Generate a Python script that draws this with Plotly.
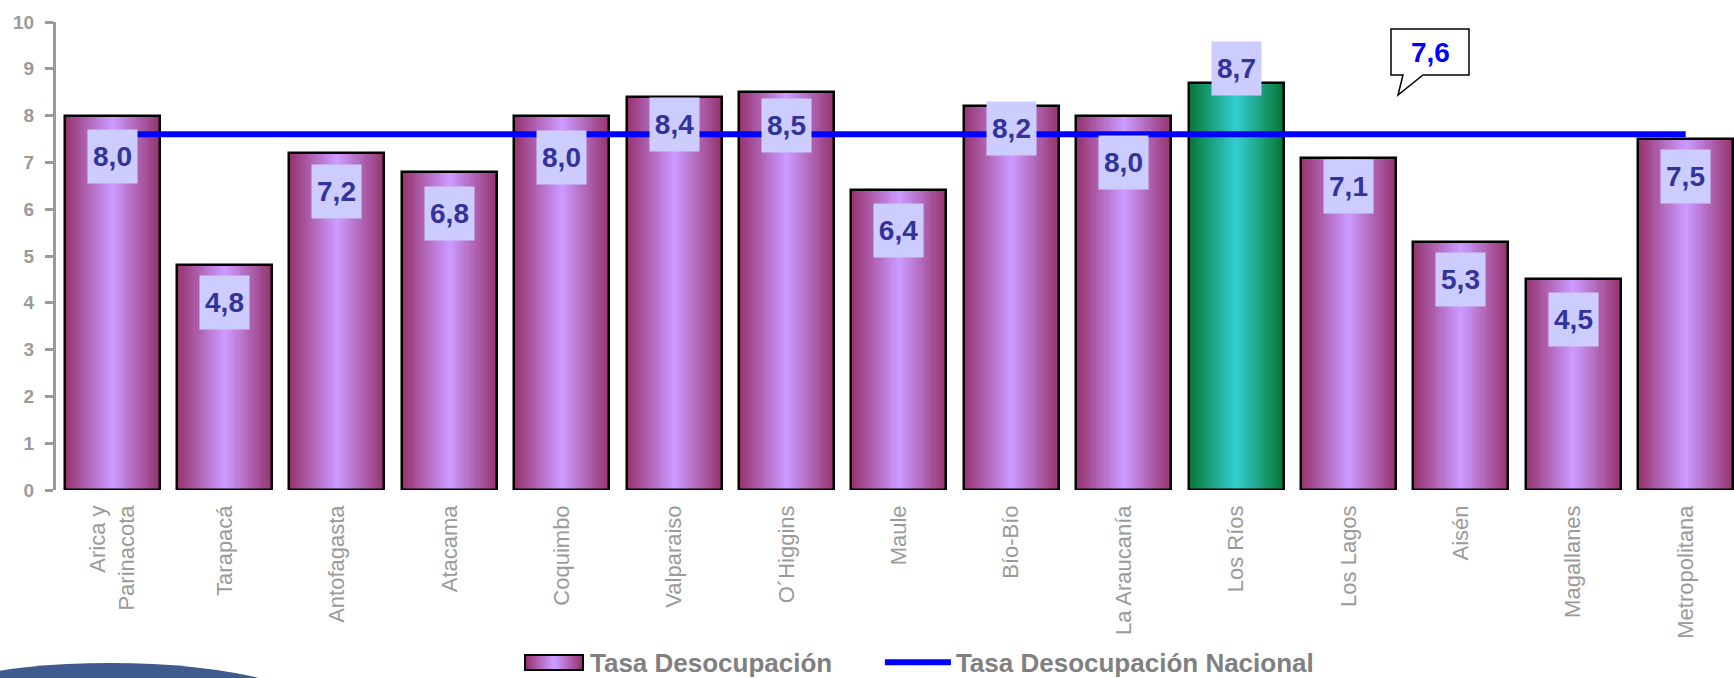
import plotly.graph_objects as go

# ---------------- data ----------------
categories = ["Arica y Parinacota", "Tarapacá", "Antofagasta", "Atacama", "Coquimbo",
              "Valparaiso", "O´Higgins", "Maule", "Bío-Bío", "La Araucanía",
              "Los Ríos", "Los Lagos", "Aisén", "Magallanes", "Metropolitana"]
tick_labels = ["Arica y<br>Parinacota", "Tarapacá", "Antofagasta", "Atacama", "Coquimbo",
               "Valparaiso", "O´Higgins", "Maule", "Bío-Bío", "La Araucanía",
               "Los Ríos", "Los Lagos", "Aisén", "Magallanes", "Metropolitana"]
tasa = [8.0, 4.8, 7.2, 6.8, 8.0, 8.4, 8.5, 6.4, 8.2, 8.0, 8.7, 7.1, 5.3, 4.5, 7.5]
nacional = 7.6
y_ticks = [0, 1, 2, 3, 4, 5, 6, 7, 8, 9, 10]
highlight = "Los Ríos"

# ---------------- styling ----------------
FONT = "Liberation Sans, Arial, sans-serif"
GRAY = "#9a9a9a"
BAR_W = 0.845
N_LAYERS = 22
label_shift = [-41, -37, -38, -42, -42, -28, -33, -40, -22, -47, 14, -29, -38, -40, -37]

purple_edge, purple_mid = (150, 52, 112), (204, 153, 255)
green_edge, green_mid = (6, 120, 56), (51, 204, 204)

# page geometry used to place decorations in paper units
W_PX, H_PX = 1734, 678
M_L, M_R, M_T, M_B = 56, 0, 22, 188
PW, PH = W_PX - M_L - M_R, H_PX - M_T - M_B


def px_x(px):
    return (px - M_L) / PW


def px_y(py):
    return (H_PX - M_B - py) / PH


def mix(a, b, t):
    return "rgb(%d,%d,%d)" % tuple(round(a[i] + (b[i] - a[i]) * t) for i in range(3))


fig = go.Figure()

# base bar (carries the legend entry; its swatch is drawn as shapes below)
fig.add_trace(go.Bar(
    x=categories, y=tasa, width=BAR_W, name="<b>Tasa Desocupación</b>",
    marker=dict(color="rgba(0,0,0,0)", line=dict(width=0)),
    showlegend=True, legend="legend", hoverinfo="skip"))

# gradient layers (nested, from edge colour to centre colour)
for k in range(N_LAYERS):
    t = k / (N_LAYERS - 1)
    w = BAR_W * (1 - k / N_LAYERS)
    cols = [mix(green_edge, green_mid, t) if c == highlight else mix(purple_edge, purple_mid, t)
            for c in categories]
    fig.add_trace(go.Bar(x=categories, y=tasa, width=w, marker=dict(color=cols, line=dict(width=0)),
                         showlegend=False, hoverinfo="skip"))

# outline on top
fig.add_trace(go.Bar(
    x=categories, y=tasa, width=BAR_W,
    marker=dict(color="rgba(0,0,0,0)", line=dict(color="black", width=2.5)),
    showlegend=False, hoverinfo="skip"))

# national line
fig.add_trace(go.Scatter(
    x=categories, y=[nacional] * len(categories), mode="lines",
    name="<b>Tasa Desocupación Nacional</b>", legend="legend2",
    line=dict(color="#0000FF", width=6)))


def fmt(v):
    return ("%.1f" % v).replace(".", ",")


annotations = []
for c, v, s in zip(categories, tasa, label_shift):
    annotations.append(dict(
        x=c, y=v, yshift=s, text="<b>%s</b>" % fmt(v), showarrow=False,
        font=dict(family=FONT, size=28, color="#333399"),
        bgcolor="#CCCCFF", width=49, height=53, borderpad=0, xanchor="center", yanchor="middle"))

# callout text for the national rate (bubble drawn as a shape below)
CB_L, CB_R, CB_T, CB_B = 1391, 1469, 29, 75
annotations.append(dict(
    x=px_x((CB_L + CB_R) / 2), y=px_y((CB_T + CB_B) / 2), xref="paper", yref="paper",
    text="<b>%s</b>" % fmt(nacional), showarrow=False,
    font=dict(family=FONT, size=28, color="#0000FF"), xanchor="center", yanchor="middle"))

# decorative shapes: slide swoosh, legend swatch (gradient box), callout bubble
shapes = [dict(type="circle", xref="paper", yref="paper",
               x0=px_x(-110), x1=px_x(330), y0=px_y(777), y1=px_y(663),
               fillcolor="#3F5A8C", line=dict(width=0), layer="above")]
SW_L, SW_R, SW_T, SW_B, SW_N = 525, 583, 655, 670, 10
for k in range(SW_N):
    t = k / (SW_N - 1)
    half = (SW_R - SW_L) / 2 * (1 - k / SW_N)
    cx = (SW_L + SW_R) / 2
    shapes.append(dict(type="rect", xref="paper", yref="paper",
                       x0=px_x(cx - half), x1=px_x(cx + half), y0=px_y(SW_B), y1=px_y(SW_T),
                       fillcolor=mix(purple_edge, purple_mid, t), line=dict(width=0), layer="above"))
shapes.append(dict(type="rect", xref="paper", yref="paper",
                   x0=px_x(SW_L), x1=px_x(SW_R), y0=px_y(SW_B), y1=px_y(SW_T),
                   fillcolor="rgba(0,0,0,0)", line=dict(color="black", width=2), layer="above"))

bubble_pts = [(CB_L, CB_T), (CB_R, CB_T), (CB_R, CB_B), (1423, CB_B), (1398, 95), (1403, CB_B),
              (CB_L, CB_B)]
bubble_path = "M" + " L".join("%.5f,%.5f" % (px_x(a), px_y(b)) for a, b in bubble_pts) + " Z"
shapes.append(dict(type="path", xref="paper", yref="paper", path=bubble_path,
                   fillcolor="white", line=dict(color="black", width=1.5), layer="above"))

legend_font = dict(family=FONT, size=26, color="#808080")

fig.update_layout(
    width=W_PX, height=H_PX,
    margin=dict(l=M_L, r=M_R, t=M_T, b=M_B, autoexpand=False),
    plot_bgcolor="white", paper_bgcolor="white",
    barmode="overlay", bargap=0,
    font=dict(family=FONT),
    annotations=annotations,
    shapes=shapes,
    showlegend=True,
    legend=dict(orientation="h", x=0.2765, y=-0.318, xanchor="left", yanchor="top",
                font=legend_font, itemwidth=60, bgcolor="rgba(0,0,0,0)"),
    legend2=dict(orientation="h", x=0.491, y=-0.318, xanchor="left", yanchor="top",
                 font=legend_font, itemwidth=66, bgcolor="rgba(0,0,0,0)"),
    xaxis=dict(range=[-0.5, 14.43], tickmode="array", tickvals=categories, ticktext=tick_labels,
               tickangle=-90, tickfont=dict(family=FONT, size=22, color=GRAY),
               showgrid=False, showline=False, zeroline=False, ticks="",
               ticklabelstandoff=10, automargin=False),
    yaxis=dict(range=[0, 10], tickvals=y_ticks, ticks="outside", ticklen=8, tickwidth=3,
               tickcolor=GRAY, showline=True, linecolor=GRAY, linewidth=3,
               tickfont=dict(family=FONT, size=19, color=GRAY, weight="bold"),
               showgrid=False, zeroline=False, ticklabelstandoff=7, automargin=False),
    yaxis2=dict(range=[0, 10], overlaying="y", side="left", anchor="x", tickvals=y_ticks,
                ticks="inside", ticklen=8, tickwidth=3, tickcolor=GRAY,
                showticklabels=False, showgrid=False, zeroline=False, showline=False,
                automargin=False),
)

fig.write_html("out.html", config={"displayModeBar": False},
               post_script="document.body.style.margin='0';")
